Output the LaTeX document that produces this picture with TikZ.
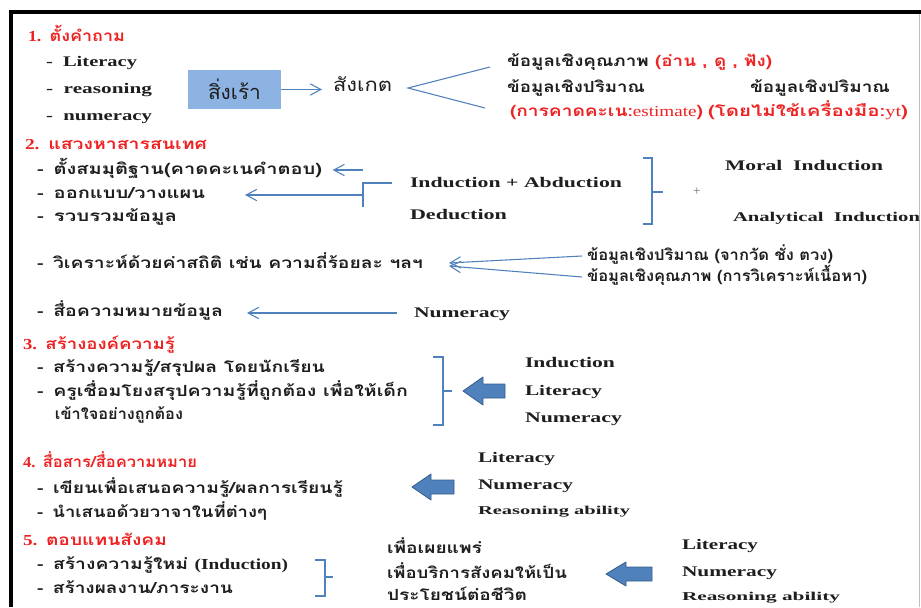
\documentclass[tikz,border=0pt]{standalone}
\usepackage{fontspec}
\usepackage{graphicx}
\setmainfont{Liberation Serif}
\newfontfamily\thai[Script=Thai]{Loma}
\usetikzlibrary{arrows.meta}
\definecolor{ablue}{HTML}{4F81BD}
\definecolor{dblue}{HTML}{385D8A}
\definecolor{boxblue}{HTML}{8DB3E2}
\definecolor{tred}{HTML}{EE2222}
\definecolor{tblack}{HTML}{1E1E1E}
\newcommand\fw[2]{\resizebox{\dimexpr #1pt*3/4\relax}{\height}{#2}}
\begin{document}
\begin{tikzpicture}[x=0.75pt,y=-0.75pt,
 tx/.style={anchor=west, inner sep=0pt, outer sep=0pt, text=tblack, text height=7pt, text depth=1pt},
 en/.style={tx, font=\fontsize{11}{13}\selectfont\bfseries},
 ensm/.style={tx, font=\fontsize{9}{11}\selectfont\bfseries},
 th/.style={tx, font=\thai\bfseries\fontsize{11.5}{14}\selectfont},
 ttl/.style={th, text=tred},
 arr/.style={draw=ablue, line width=0.8pt, -{Straight Barb[length=8pt,width=8.5pt]}},
 brk/.style={draw=ablue, line width=0.8pt},
 blk/.style={fill=ablue, draw=dblue, line width=0.6pt, line join=round}]
\useasboundingbox (0,0) rectangle (921,607);
\fill[white] (0,0) rectangle (921,607);
\draw[line width=2.4pt] (921,12) -- (11,12) -- (11,607);
\draw[black!25, line width=0.5pt] (919,14) -- (919,607);

% ---------- section 1
\node[ttl] (t1) at (28,37) {\fw{97}{{\rmfamily\bfseries 1.} ตั้งคำถาม}};
\node[en] (l1) at (46,62) {\fw{91}{-\enspace Literacy}};
\node[en] (l2) at (46,89) {\fw{106}{-\enspace reasoning}};
\node[en] (l3) at (46,116) {\fw{106}{-\enspace numeracy}};
\node[fill=boxblue, minimum width=69.75pt, minimum height=29.25pt, inner sep=0pt, outer sep=0pt,
      text=tblack, font=\thai\fontsize{15}{17}\selectfont] (b) at (234.5,89.5) {\fw{53}{สิ่งเร้า}};
\node[tx, font=\thai\fontsize{14}{16}\selectfont] (o) at (333,87) {\fw{59}{สังเกต}};
\draw[arr] (b.east) -- ([xshift=-8.25pt]b.east -| o.west);
\coordinate (v) at (408,88);
\coordinate (vu) at (490,67);
\coordinate (vd) at (485,108);
\draw[brk] (vu) -- (v) -- (vd);
\node[th] (r1) at (507,62) {\fw{265}{ข้อมูลเชิงคุณภาพ \textcolor{tred}{(อ่าน , ดู , ฟัง)}}};
\node[th] (r2) at (507,88) {\fw{138}{ข้อมูลเชิงปริมาณ}};
\node[th] (r3) at (750,88) {\fw{140}{ข้อมูลเชิงปริมาณ}};
\node[ttl] (r4) at (510,112) {\fw{193}{(การคาดคะเน:{\rmfamily\mdseries estimate})}};
\node[ttl] (r5) at (708,112) {\fw{200}{(โดยไม่ใช้เครื่องมือ:{\rmfamily\mdseries yt})}};

% ---------- section 2
\node[ttl] (t2) at (25,145) {\fw{182}{{\rmfamily\bfseries 2.} แสวงหาสารสนเทศ}};
\node[th] (h1) at (37,170) {\fw{285}{-\enspace ตั้งสมมุติฐาน(คาดคะเนคำตอบ)}};
\node[th] (h2) at (37,194) {\fw{168}{-\enspace ออกแบบ/วางแผน}};
\node[th] (h3) at (37,217) {\fw{140}{-\enspace รวบรวมข้อมูล}};
\node[en] (ia) at (410,183) {\fw{212}{Induction + Abduction}};
\node[en] (de) at (410,215) {\fw{97}{Deduction}};
\node[en] (mi) at (725,166) {\fw{158}{Moral\enspace Induction}};
\node[tx, font=\fontsize{10}{12}\selectfont\bfseries] (ai) at (733,217) {\fw{187}{Analytical\enspace Induction}};
\node[inner sep=0pt, text=black!55, font=\fontsize{10}{10}\selectfont] (pl) at (697,192) {+};
\coordinate (a1s) at (363,170);
\draw[arr, shorten >=8pt] (a1s) -- (a1s -| h1.east);
\coordinate (jt) at (363,183);
\coordinate (jm) at (363,195);
\coordinate (jb) at (363,207);
\draw[brk] ([xshift=-13.5pt]ia.west) -- (jt) -- (jb);
\draw[arr, shorten >=30pt] (jm) -- (jm -| h2.east);
\draw[brk] (643,158) -- (652,158) -- (652,224) -- (643,224);
\draw[brk] (652,192) -- (663,192);

\node[th] (h4) at (37,264) {\fw{386}{-\enspace วิเคราะห์ด้วยค่าสถิติ เช่น ความถี่ร้อยละ ฯลฯ}};
\node[th] (q1) at (587,256) {\fw{246}{ข้อมูลเชิงปริมาณ (จากวัด ชั่ง ตวง)}};
\node[th] (q2) at (587,277) {\fw{280}{ข้อมูลเชิงคุณภาพ (การวิเคราะห์เนื้อหา)}};
\coordinate (ta) at (449,263);
\coordinate (tb) at (449,266);
\draw[arr] ([xshift=-3.75pt]q1.west) -- (ta);
\draw[arr] ([xshift=-3.75pt]q2.west) -- (tb);
\node[th] (h5) at (37,312) {\fw{186}{-\enspace สื่อความหมายข้อมูล}};
\node[en] (nm) at (414,313) {\fw{96}{Numeracy}};
\draw[arr, shorten >=18pt] ([xshift=-12.75pt]nm.west) -- (nm.west -| h5.east);

% ---------- section 3
\node[ttl] (t3) at (23,345) {\fw{152}{{\rmfamily\bfseries 3.} สร้างองค์ความรู้}};
\node[th] (k1) at (37,368) {\fw{288}{-\enspace สร้างความรู้/สรุปผล โดยนักเรียน}};
\node[th] (k2) at (37,392) {\fw{371}{-\enspace ครูเชื่อมโยงสรุปความรู้ที่ถูกต้อง เพื่อให้เด็ก}};
\node[th] (k3) at (55,415) {\fw{128}{เข้าใจอย่างถูกต้อง}};
\draw[brk] (433,357) -- (443,357) -- (443,425) -- (433,425);
\draw[brk] (443,391) -- (452,391);
\draw[blk] (463,391) -- ++(20,-14) -- ++(0,7) -- ++(22,0) -- ++(0,14) -- ++(-22,0) -- ++(0,7) -- cycle;
\node[en] (in3) at (525,363) {\fw{90}{Induction}};
\node[en] (li3) at (525,391) {\fw{77}{Literacy}};
\node[en] (nu3) at (525,418) {\fw{97}{Numeracy}};

% ---------- section 4
\node[ttl] (t4) at (23,463) {\fw{174}{{\rmfamily\bfseries 4.} สื่อสาร/สื่อความหมาย}};
\node[th] (c1) at (37,489) {\fw{306}{-\enspace เขียนเพื่อเสนอความรู้/ผลการเรียนรู้}};
\node[th] (c2) at (37,513) {\fw{230}{-\enspace นำเสนอด้วยวาจาในที่ต่างๆ}};
\draw[blk] (412,487) -- ++(19,-13) -- ++(0,6) -- ++(23,0) -- ++(0,14) -- ++(-23,0) -- ++(0,6) -- cycle;
\node[en] (li4) at (478,458) {\fw{77}{Literacy}};
\node[en] (nu4) at (478,485) {\fw{95}{Numeracy}};
\node[ensm] (ra4) at (478,510) {\fw{152}{Reasoning ability}};

% ---------- section 5
\node[ttl] (t5) at (23,541) {\fw{144}{{\rmfamily\bfseries 5.} ตอบแทนสังคม}};
\node[th] (s1) at (37,565) {\fw{251}{-\enspace สร้างความรู้ใหม่ {\rmfamily\bfseries (Induction)}}};
\node[th] (s2) at (37,589) {\fw{196}{-\enspace สร้างผลงาน/ภาระงาน}};
\draw[brk] (315,560) -- (325,560) -- (325,596) -- (315,596);
\draw[brk] (325,577) -- (333,577);
\node[th] (p1) at (387,549) {\fw{95}{เพื่อเผยแพร่}};
\node[th] (p2) at (387,574) {\fw{180}{เพื่อบริการสังคมให้เป็น}};
\node[th] (p3) at (387,596) {\fw{140}{ประโยชน์ต่อชีวิต}};
\draw[blk] (606,574) -- ++(20,-12) -- ++(0,5) -- ++(26,0) -- ++(0,14) -- ++(-26,0) -- ++(0,5) -- cycle;
\node[en] (li5) at (682,545) {\fw{76}{Literacy}};
\node[en] (nu5) at (682,572) {\fw{95}{Numeracy}};
\node[ensm] (ra5) at (682,596) {\fw{158}{Reasoning ability}};
\end{tikzpicture}
\end{document}
